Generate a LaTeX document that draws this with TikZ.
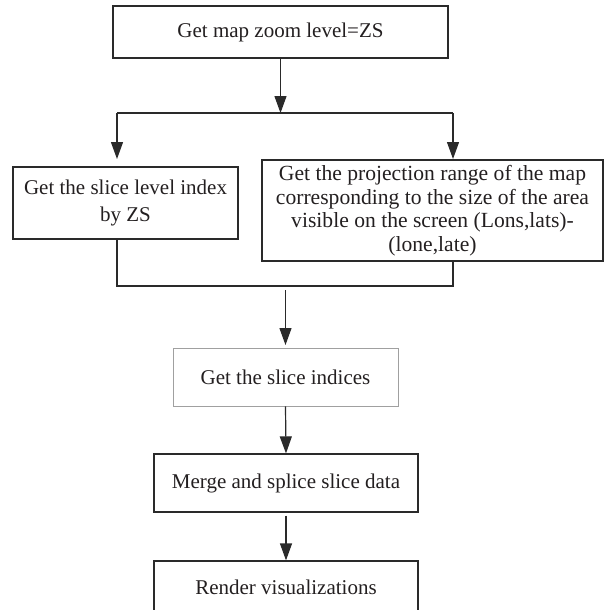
\documentclass[tikz,border=0pt]{standalone}
\usepackage{fontspec}
\setmainfont{Liberation Serif}
\usetikzlibrary{arrows.meta}
\definecolor{ln}{HTML}{2A2A2A}
\definecolor{tx}{HTML}{231F20}
\definecolor{gb}{HTML}{A0A0A0}
\begin{document}
\begin{tikzpicture}[x=1pt,y=-1pt,
  box/.style={draw=ln, line width=1.2pt, rectangle, inner sep=0pt, align=center, text=tx, font=\fontsize{21}{23.5}\selectfont},
  conn/.style={draw=ln, line width=1.2pt},
  arr/.style={conn, -{Triangle[length=17pt,width=12pt]}}]
\useasboundingbox (0,0) rectangle (604,610);
\clip (0,0) rectangle (604,610);
\node[box, minimum width=335pt, minimum height=52pt] (zoom) at (280.5,32) {Get map zoom level=ZS};
\node[box, minimum width=225pt, minimum height=72pt, font=\fontsize{21}{27}\selectfont] (left) at (125.5,203) {Get the slice level index\\by ZS};
\node[box, minimum width=341pt, minimum height=101pt, font=\fontsize{21.6}{23.5}\selectfont] (right) at (432.5,210.5) {Get the projection range of the map\\corresponding to the size of the area\\visible on the screen (Lons,lats)-\\(lone,late)};
\node[box, draw=gb, line width=0.9pt, minimum width=225pt, minimum height=58pt] (idx) at (285.5,377) {Get the slice indices};
\node[box, minimum width=264pt, minimum height=58pt] (merge) at (286,483) {Merge and splice slice data};
\node[box, minimum width=264pt, minimum height=52pt] (render) at (286,587) {Render visualizations};
\coordinate (j0) at (280.5,113);
\coordinate (jl) at (117,113);
\coordinate (jr) at (453,113);
\coordinate (tl) at (117,159);
\coordinate (tr) at (453,159);
\coordinate (ml) at (117,286);
\coordinate (mr) at (453,286);
\coordinate (ds) at (285.5,290);
\coordinate (de) at (285.5,345);
\draw[arr] (zoom.south) -- (j0);
\draw[conn] (jl) -- (jr);
\draw[arr] (jl) -- (tl);
\draw[arr] (jr) -- (tr);
\draw[conn] (tl |- left.south) -- (ml) -- (mr) -- (tr |- right.south);
\draw[arr] (ds) -- (de);
\draw[arr] (idx.south) -- (merge.north);
\draw[arr] ([yshift=-3pt]merge.south) -- (render.north);
\end{tikzpicture}
\end{document}
